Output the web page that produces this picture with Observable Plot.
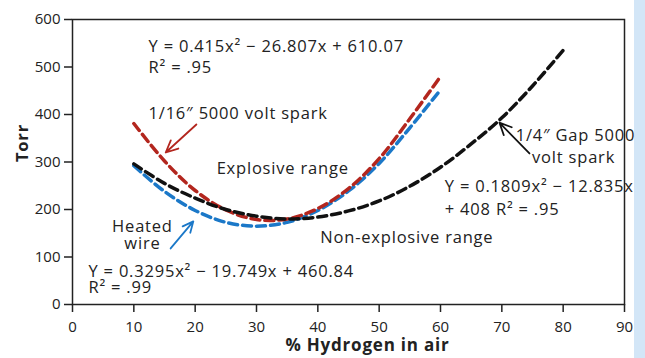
<!DOCTYPE html>
<html>
<head>
<meta charset="utf-8">
<script src="https://cdn.jsdelivr.net/npm/d3@7"></script>
<script src="https://cdn.jsdelivr.net/npm/@observablehq/plot@0.6"></script>
<style>
  html, body { margin: 0; padding: 0; background: #fff; }
  #wrap { position: relative; width: 645px; height: 358px; overflow: hidden; }
  #strip { position: absolute; left: 634px; top: 0; width: 11px; height: 358px; background: #d3e6f7; }
  #wrap svg g[aria-label="text"] text { letter-spacing: 0.8px; }
</style>
</head>
<body>
<div id="wrap"><div id="strip"></div></div>
<script>
// Data
const sparkX = [10, 15, 20, 25, 30, 35, 40, 45, 50, 55, 60];
const spark16Y = [381, 302, 240, 199, 179, 180, 202, 244, 307, 391, 480];
const heatedY = [292, 238, 198, 173, 165, 173, 198, 239, 297, 372, 452];
const gapX = [10, 15, 20, 25, 30, 35, 40, 45, 50, 55, 60, 65, 70, 75, 80];
const gap14Y = [296, 255, 224, 200, 186, 180, 184, 197, 218, 249, 289, 338, 393, 460, 535];

const xTicks = [0, 10, 20, 30, 40, 50, 60, 70, 80, 90];
const yTicks = [0, 100, 200, 300, 400, 500, 600];

const labels = [
  {x: 12.4, y: 543, t: "Y = 0.415x² − 26.807x + 610.07", a: "start"},
  {x: 12.4, y: 498, t: "R² = .95", a: "start"},
  {x: 12.4, y: 402, t: "1/16″ 5000 volt spark", a: "start"},
  {x: 23.5, y: 286, t: "Explosive range", a: "start"},
  {x: 11.4, y: 164, t: "Heated", a: "middle"},
  {x: 11.4, y: 128, t: "wire", a: "middle"},
  {x: 2.6, y: 69, t: "Y = 0.3295x² − 19.749x + 460.84", a: "start"},
  {x: 2.6, y: 36, t: "R² = .99", a: "start"},
  {x: 40.4, y: 141, t: "Non-explosive range", a: "start"},
  {x: 82.0, y: 356, t: "1/4″ Gap 5000", a: "middle"},
  {x: 81.7, y: 309, t: "volt spark", a: "middle"},
  {x: 60.7, y: 248, t: "Y = 0.1809x² − 12.835x", a: "start"},
  {x: 60.7, y: 200, t: "+ 408 R² = .95", a: "start"}
];

const arrows = [
  {x1: 20.2, y1: 379, x2: 15.2, y2: 320, c: "#b3261e"},
  {x1: 16.0, y1: 118, x2: 19.7, y2: 175, c: "#1b78c8"},
  {x1: 74.5, y1: 318, x2: 69.6, y2: 383, c: "#111"}
];

const font = "'Open Sans', 'DejaVu Sans', sans-serif";
const dash = "9,5";

const chart = Plot.plot({
  width: 645,
  height: 358,
  marginLeft: 72,
  marginRight: 21,
  marginTop: 19,
  marginBottom: 54,
  style: {fontFamily: font, background: "transparent", color: "#222"},
  x: {domain: [0, 90]},
  y: {domain: [0, 600]},
  marks: [
    Plot.frame({stroke: "#222", strokeWidth: 1.5}),
    Plot.axisX({ticks: xTicks, tickSize: 8, tickPadding: 9, fontSize: 15, label: null, stroke: "#222", strokeWidth: 1.5}),
    Plot.axisY({ticks: yTicks, tickSize: 8, tickPadding: 4, fontSize: 15, label: null, stroke: "#222", strokeWidth: 1.5}),
    Plot.text(["Torr"], {text: d => d, frameAnchor: "left", dx: -50, rotate: -90, fontSize: 16.5, fontWeight: "bold", fill: "#222"}),
    Plot.text(["% Hydrogen in air"], {text: d => d, frameAnchor: "bottom", dx: 19, dy: 46, fontSize: 17, fontWeight: "bold", fill: "#222"}),
    Plot.line(sparkX, {x: d => d, y: (d, i) => heatedY[i], curve: "catmull-rom", stroke: "#1b78c8", strokeWidth: 3.5, strokeDasharray: dash}),
    Plot.line(sparkX, {x: d => d, y: (d, i) => spark16Y[i], curve: "catmull-rom", stroke: "#b3261e", strokeWidth: 3.5, strokeDasharray: dash}),
    Plot.line(gapX, {x: d => d, y: (d, i) => gap14Y[i], curve: "catmull-rom", stroke: "#111", strokeWidth: 3.5, strokeDasharray: dash}),
    Plot.arrow(arrows, {x1: "x1", y1: "y1", x2: "x2", y2: "y2", stroke: "c", strokeWidth: 1.8, headLength: 11, headAngle: 50}),
    Plot.text(labels.filter(d => d.a === "start"), {x: "x", y: "y", text: "t", textAnchor: "start", fontSize: 16.5, fill: "#222"}),
    Plot.text(labels.filter(d => d.a === "middle"), {x: "x", y: "y", text: "t", textAnchor: "middle", fontSize: 16.5, fill: "#222"})
  ]
});
document.getElementById("wrap").appendChild(chart);
chart.style.position = "absolute";
chart.style.left = "0px";
chart.style.top = "0px";
</script>
</body>
</html>
